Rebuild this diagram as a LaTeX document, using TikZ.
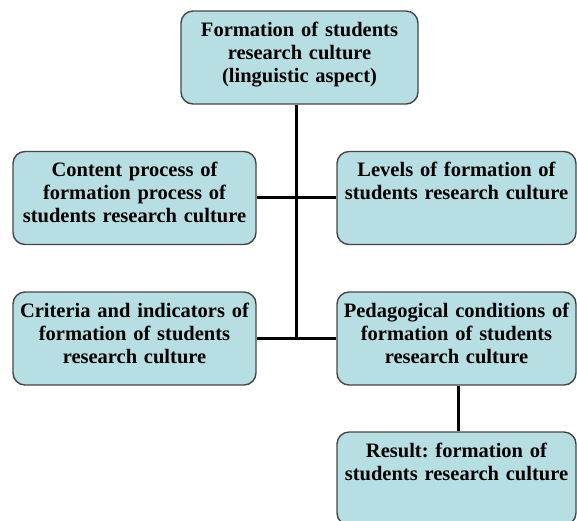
\documentclass[tikz,border=0pt]{standalone}
\usepackage{fontspec}
\setmainfont{Liberation Serif}
\usepackage{tikz}
\frenchspacing

\definecolor{boxfill}{RGB}{183,222,226}
\definecolor{boxline}{RGB}{70,70,70}

\begin{document}
\begin{tikzpicture}[x=1pt,y=-1pt,
	box/.style={draw=boxline,line width=1.4pt,fill=boxfill,rounded corners=12pt,
		align=center,font=\bfseries\fontsize{20.5}{23}\selectfont,
		inner xsep=1pt,inner ysep=8pt,text height=17pt,text depth=60pt},
	link/.style={line width=3pt,black}]
	\clip (0,0) rectangle (577,520);
	
	\node[box,text width=235pt] (goal) at (299.5,57.5)     {Formation of students\\research culture\\(linguistic aspect)};
	\node[box,text width=241pt] (content) at (134.5,198)     {Content process of\\formation process of\\students research culture};
	\node[box,text width=237pt] (levels) at (456.5,198)     {Levels of formation of\\students research culture};
	\node[box,text width=241pt] (criteria) at (134.5,338.5)     {Criteria and indicators of\\formation of students\\research culture};
	\node[box,text width=237pt] (conditions) at (456.5,338.5)     {Pedagogical conditions of\\formation of students\\research culture};
	\node[box,text width=237pt] (result) at (456.5,478.5)     {Result: formation of\\students research culture};
	
	\coordinate (hub) at (296,338.5);
	
	\path[link] (goal.south -| hub) edge (hub);
	\path[link] (content.east |- 0,197) edge (levels.west |- 0,197);
	\path[link] (criteria) edge (conditions);
	\path[link] (conditions.south -| 458,0) edge (result.north -| 458,0);
\end{tikzpicture}
\end{document}
